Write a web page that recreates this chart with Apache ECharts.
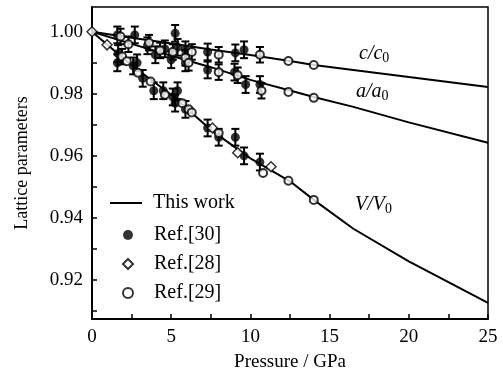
<!DOCTYPE html>
<html><head><meta charset="utf-8">
<script src="https://cdn.jsdelivr.net/npm/echarts@6/dist/echarts.min.js"></script>
<style>html,body{margin:0;padding:0;background:#fff}#c{width:503px;height:378px}</style>
</head><body><div id="c"></div>
<script>
// "This work" curves
const workP = [0, 2.5, 5, 7.5, 10, 12.5, 14, 16.5, 20, 25];
const workC = [1.0, 0.9981, 0.9962, 0.9943, 0.9925, 0.9906, 0.9893, 0.9877, 0.9854, 0.9822];
const workA = [1.0, 0.9961, 0.9923, 0.9886, 0.9845, 0.9811, 0.9790, 0.9758, 0.9708, 0.9642];
const workV = [1.0, 0.9892, 0.9797, 0.9684, 0.9592, 0.9518, 0.9458, 0.9365, 0.926, 0.9126];

// Ref.[30] filled circles (with error bars)
const ref30P = [1.6, 2.7, 3.5, 4.6, 5.25, 5.4, 5.9, 7.3, 9.05, 9.6,
                1.65, 2.85, 4.0, 5.0, 5.9, 7.3, 9.0, 9.7, 10.6,
                1.6, 2.6, 3.2, 3.9, 4.5, 5.1, 5.25, 5.4, 5.9, 7.3, 8.0, 9.05, 9.6, 10.6];
const ref30V = [0.9990, 0.9990, 0.9955, 0.9945, 0.9995, 0.9950, 0.9942, 0.9935, 0.9932, 0.9942,
                0.9930, 0.9900, 0.9926, 0.9910, 0.9900, 0.9877, 0.9870, 0.9830, 0.9830,
                0.9900, 0.9890, 0.9850, 0.9810, 0.9810, 0.9790, 0.9770, 0.9810, 0.9750, 0.9690, 0.9660, 0.9660, 0.9600, 0.9580];
const ref30E = 0.0027;

// Ref.[28] open diamonds
const ref28P = [0, 0.95, 7.6, 9.2, 11.3];
const ref28V = [1.0, 0.9958, 0.9690, 0.9610, 0.9565];

// Ref.[29] open circles
const ref29P = [1.8, 2.3, 3.6, 4.3, 5.1, 6.3, 8.0, 10.6, 12.4, 14.0,
                1.9, 5.9, 6.1, 8.0, 9.2, 10.7, 12.4, 14.0,
                2.2, 2.9, 3.7, 4.6, 5.7, 6.1, 6.3, 8.0, 10.8, 12.4, 14.0];
const ref29V = [0.9985, 0.9960, 0.9965, 0.9940, 0.9935, 0.9935, 0.9926, 0.9926, 0.9906, 0.9893,
                0.9920, 0.9916, 0.9900, 0.9870, 0.9860, 0.9810, 0.9806, 0.9787,
                0.9905, 0.9868, 0.9840, 0.9797, 0.9770, 0.9750, 0.9740, 0.9674, 0.9545, 0.9520, 0.9458];
const ref29E = [0.0025, 0.0025, 0.0025, 0.0025, 0.0025, 0.0025, 0.0025, 0.0025, 0, 0,
                0.0025, 0.0025, 0.0025, 0.0025, 0.0025, 0.0025, 0, 0,
                0, 0, 0, 0, 0, 0, 0, 0, 0, 0, 0];

const yTicks = [0.91, 0.92, 0.93, 0.94, 0.95, 0.96, 0.97, 0.98, 0.99, 1.00];
const yLabels = [0.92, 0.94, 0.96, 0.98, 1.00];

const FONT = 'Liberation Serif';
const zip = (a, b) => a.map((v, i) => [v, b[i]]);

function errItem(params, api) {
  const x = api.value(0), y = api.value(1), e = api.value(2);
  if (!e) return null;
  const top = api.coord([x, y + e]);
  const bot = api.coord([x, y - e]);
  const w = 4;
  const st = {stroke: '#000', lineWidth: 2};
  return {type: 'group', children: [
    {type: 'line', shape: {x1: top[0], y1: top[1], x2: bot[0], y2: bot[1]}, style: st},
    {type: 'line', shape: {x1: top[0]-w, y1: top[1], x2: top[0]+w, y2: top[1]}, style: st},
    {type: 'line', shape: {x1: bot[0]-w, y1: bot[1], x2: bot[0]+w, y2: bot[1]}, style: st}
  ]};
}

const lineStyle = {color: '#000', width: 2};
const sub = (t, l, tp) => ({type: 'text', left: l, top: tp, silent: true, style: {
  text: '{i|' + t + '}{s|0}', rich: {
    i: {fontFamily: FONT, fontStyle: 'italic', fontSize: 20, fill: '#000'},
    s: {fontFamily: FONT, fontSize: 14, fill: '#000', padding: [8, 0, 0, 0]}}}});
const legendText = {fontFamily: FONT, fontSize: 20, color: '#000'};

const chart = echarts.init(document.getElementById('c'), null, {renderer: 'canvas'});
chart.setOption({
  animation: false,
  backgroundColor: '#fff',
  grid: {left: 92, right: 15, top: 7, bottom: 59, show: true, borderColor: '#000', borderWidth: 1.5, backgroundColor: 'transparent'},
  xAxis: {
    type: 'value', min: 0, max: 25, interval: 2.5,
    name: 'Pressure / GPa', nameLocation: 'middle', nameGap: 34,
    nameTextStyle: {fontFamily: FONT, fontSize: 19, color: '#000'},
    axisLine: {lineStyle: {color: '#000', width: 2}},
    axisTick: {inside: true, length: 5, lineStyle: {color: '#000', width: 1.5}},
    axisLabel: {fontFamily: FONT, fontSize: 19, color: '#000', margin: 9,
      formatter: v => (Math.abs(v % 5) < 1e-9 ? String(v) : '')},
    splitLine: {show: false}
  },
  yAxis: {
    type: 'value', min: 0.9074, max: 1.008,
    name: 'Lattice parameters', nameLocation: 'middle', nameGap: 61,
    nameTextStyle: {fontFamily: FONT, fontSize: 18, color: '#000'},
    axisLine: {lineStyle: {color: '#000', width: 2}},
    axisTick: {inside: true, length: 5, lineStyle: {color: '#000', width: 1.5}, customValues: yTicks},
    axisLabel: {fontFamily: FONT, fontSize: 19, color: '#000', margin: 9, customValues: yLabels,
      formatter: v => v.toFixed(2)},
    splitLine: {show: false}
  },
  legend: [
    {
      orient: 'vertical', left: 105, top: 188, itemWidth: 32, itemHeight: 2,
      textStyle: Object.assign({padding: [0, 0, 0, 6]}, legendText),
      data: [{name: 'This work', icon: 'rect', itemStyle: {color: '#000'}}]
    },
    {
      orient: 'vertical', left: 117, top: 220, itemGap: 9, itemWidth: 10, itemHeight: 10,
      textStyle: Object.assign({padding: [0, 0, 0, 16]}, legendText),
      data: [{name: 'Ref.[30]'}, {name: 'Ref.[28]'}, {name: 'Ref.[29]'}]
    }
  ],
  graphic: [sub('c/c', 359, 44), sub('a/a', 356, 82), sub('V/V', 355, 195)],
  series: [
    {name: 'This work', type: 'line', data: zip(workP, workC), symbol: 'none', lineStyle, itemStyle: {color: '#000'}, z: 2},
    {name: 'This work', type: 'line', data: zip(workP, workA), symbol: 'none', lineStyle, itemStyle: {color: '#000'}, z: 2},
    {name: 'This work', type: 'line', data: zip(workP, workV), symbol: 'none', lineStyle, itemStyle: {color: '#000'}, z: 2},
    {name: 'err30', type: 'custom', renderItem: errItem, itemStyle: {color: '#000'}, data: ref30P.map((p, i) => [p, ref30V[i], ref30E]), z: 3},
    {name: 'err29', type: 'custom', renderItem: errItem, itemStyle: {color: '#000'}, data: ref29P.map((p, i) => [p, ref29V[i], ref29E[i]]), z: 3},
    {name: 'Ref.[30]', type: 'scatter', data: zip(ref30P, ref30V), symbol: 'circle', symbolSize: 9, symbolKeepAspect: true,
      itemStyle: {color: '#000', borderColor: '#000', borderWidth: 0}, z: 5},
    {name: 'Ref.[28]', type: 'scatter', data: zip(ref28P, ref28V), symbol: 'diamond', symbolSize: 10, symbolKeepAspect: true,
      itemStyle: {color: '#fff', borderColor: '#000', borderWidth: 1.5}, z: 5},
    {name: 'Ref.[29]', type: 'scatter', data: zip(ref29P, ref29V), symbol: 'circle', symbolSize: 8, symbolKeepAspect: true,
      itemStyle: {color: '#fff', borderColor: '#000', borderWidth: 2}, z: 6}
  ]
});
</script></body></html>
